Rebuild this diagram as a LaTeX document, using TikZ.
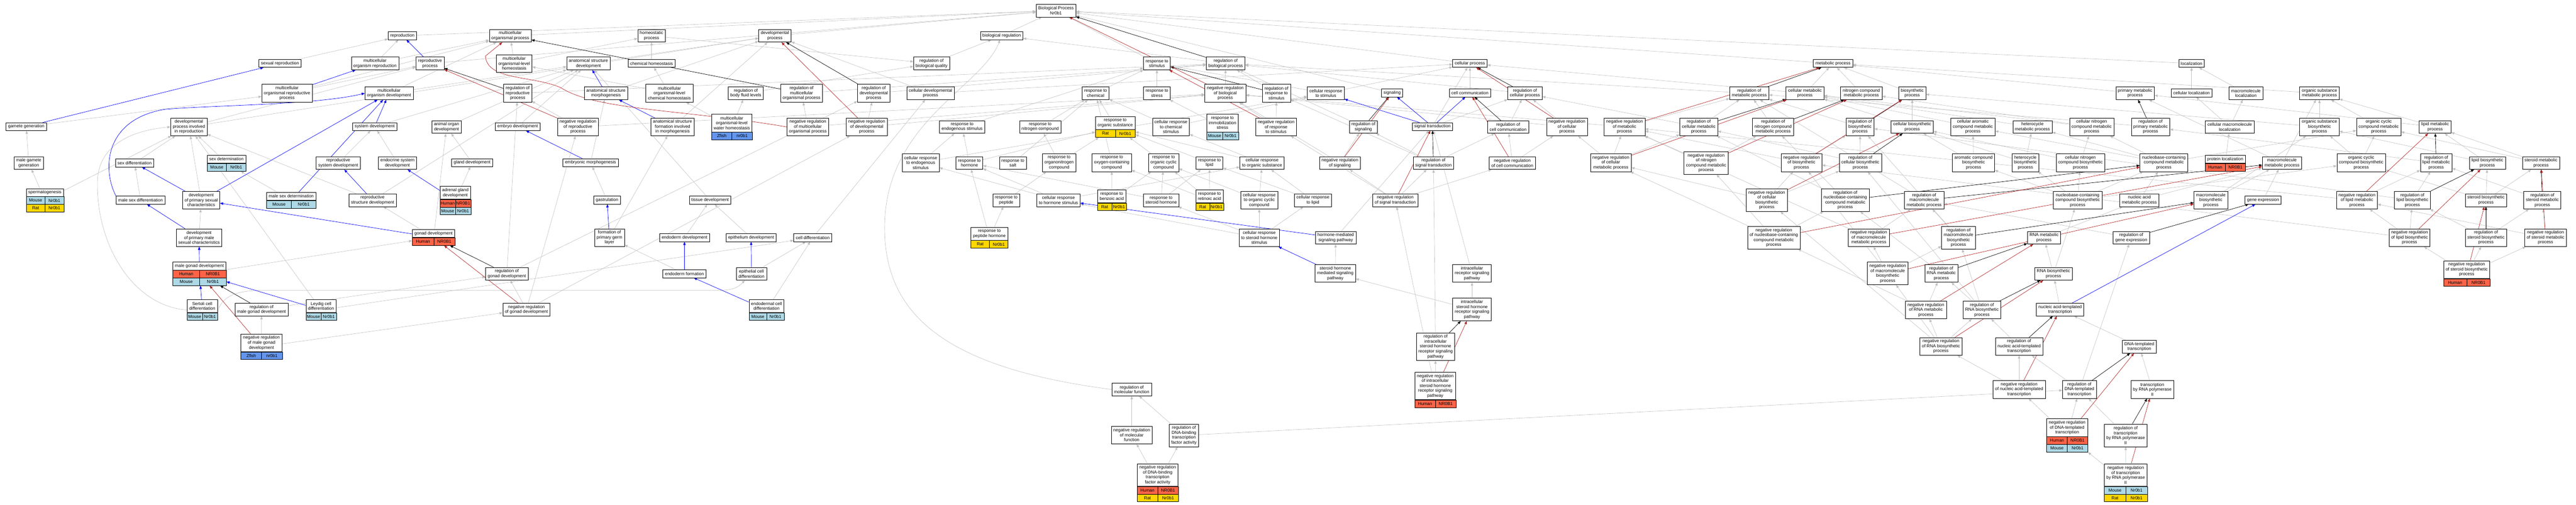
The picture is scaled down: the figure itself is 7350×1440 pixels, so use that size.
\documentclass[tikz,border=0pt]{standalone}
\usepackage{fontspec}
\setmainfont{Liberation Sans}
\usetikzlibrary{arrows.meta,backgrounds,calc,fit}

\definecolor{Human}{HTML}{FF6347}
\definecolor{Mouse}{HTML}{ADD8E6}
\definecolor{Rat}{HTML}{FFD700}
\definecolor{Zfish}{HTML}{6495ED}
\definecolor{isagray}{HTML}{C0C0C0}
\definecolor{firebrick}{HTML}{B22222}

\newcommand\gofont{\fontsize{12.4}{14}\selectfont}

\tikzset{
  >={Triangle[length=9pt,width=7pt]},
  term/.style={draw, line width=0.9pt, fill=white, align=center, font=\gofont,
    inner xsep=6pt, inner ysep=1pt, minimum height={8.5+14*#1}},
  term/.default=1,
  cell/.style={draw, line width=0.8pt, fill=#1, font=\gofont, inner sep=0pt,
    minimum height=21.6pt},
  isa/.style={->, draw=isagray, line width=0.9pt},
  partof/.style={->, draw=blue, line width=1pt},
  reg/.style={->, draw=black, line width=1pt},
  negreg/.style={->, draw=firebrick, line width=1pt}
}

% term with gene table: name, position, label, lines, species/gene rows
\newcommand\gorec[5]{%
  \node[term=#4] (#1-l) at (#2) {#3};
  \foreach \sp/\gn [count=\i] in {#5} {
    \path let \p1=(#1-l.south west), \p2=(#1-l.south east) in
      node[cell=\sp, minimum width={(\x2-\x1)/2}, anchor=north west]
        (#1-a\i) at (\x1,{\y1-(\i-1)*21.6pt}) {\sp}
      node[cell=\sp, minimum width={(\x2-\x1)/2}, anchor=north west]
        (#1-b\i) at ({(\x1+\x2)/2},{\y1-(\i-1)*21.6pt}) {\gn};
    \node[fit=(#1-l)(#1-b\i), inner sep=0pt] (#1) {};
  }%
}

\begin{document}
\begin{tikzpicture}[x=1pt,y=-1pt]
\useasboundingbox (0,0) rectangle (7350,1440);

% top rows
\node[term=2] (bp) at (3013,30) {Biological Process\\Nr0b1};
\node[term] (repro) at (1148,102) {reproduction};
\node[term=2] (mop) at (1456,102) {multicellular\\organismal process};
\node[term=2] (homeo) at (1859,102) {homeostatic\\process};
\node[term=2] (devp) at (2211,102) {developmental\\process};
\node[term] (bioreg) at (2858,102) {biological regulation};

\node[term] (sexrep) at (799,181) {sexual reproduction};
\node[term=2] (mor) at (1070,181) {multicellular\\organism reproduction};
\node[term=2] (rp) at (1227,181) {reproductive\\process};
\node[term=3] (mlh) at (1467,181) {multicellular\\organismal-level\\homeostasis};
\node[term=2] (asd) at (1679,181) {anatomical structure\\development};
\node[term] (chemh) at (1859,181) {chemical homeostasis};
\node[term=2] (rbq) at (2658,181) {regulation of\\biological quality};
\node[term=2] (rts) at (3301,181) {response to\\stimulus};
\node[term=2] (rbp) at (3497,181) {regulation of\\biological process};
\node[term] (cp) at (4194,181) {cellular process};
\node[term] (mp) at (5230,181) {metabolic process};
\node[term] (loc) at (6253,181) {localization};

\node[term=3] (morp) at (819,266) {multicellular\\organismal reproductive\\process};
\node[term=2] (mod) at (1110,266) {multicellular\\organism development};
\node[term=3] (rrp) at (1477,266) {regulation of\\reproductive\\process};
\node[term=2] (asm) at (1729,266) {anatomical structure\\morphogenesis};
\node[term=3] (mlch) at (1910,266) {multicellular\\organismal-level\\chemical homeostasis};
\node[term=2] (rbfl) at (2128,266) {regulation of\\body fluid levels};
\node[term=3] (rmop) at (2287,266) {regulation of\\multicellular\\organismal process};
\node[term=3] (rdp) at (2493,266) {regulation of\\developmental\\process};
\node[term=2] (cdp) at (2655,266) {cellular developmental\\process};
\node[term=2] (rtc) at (3126,266) {response to\\chemical};
\node[term=2] (rtstress) at (3301,266) {response to\\stress};
\node[term=3] (nrbp) at (3496,266) {negative regulation\\of biological\\process};
\node[term=3] (rrs) at (3642,266) {regulation of\\response to\\stimulus};
\node[term=2] (crs) at (3783,266) {cellular response\\to stimulus};
\node[term] (sig) at (3972,265) {signaling};
\node[term] (cc) at (4194,265) {cell communication};
\node[term=2] (rcp) at (4351,266) {regulation of\\cellular process};
\node[term=2] (rmp) at (4991,266) {regulation of\\metabolic process};
\node[term=2] (cmp) at (5150,266) {cellular metabolic\\process};
\node[term=2] (ncmp) at (5311,266) {nitrogen compound\\metabolic process};
\node[term=2] (bsp) at (5456,266) {biosynthetic\\process};
\node[term=2] (pmp) at (6092,266) {primary metabolic\\process};
\node[term] (cloc) at (6253,265) {cellular localization};
\node[term=2] (mloc) at (6408,266) {macromolecule\\localization};
\node[term=2] (osmp) at (6618,266) {organic substance\\metabolic process};

\node[term] (gg) at (75,361) {gamete generation};
\node[term=3] (dpir) at (539,362) {developmental\\process involved\\in reproduction};
\node[term] (sd) at (1069,361) {system development};
\node[term=2] (aod) at (1274,362) {animal organ\\development};
\node[term] (ed) at (1477,361) {embryo development};
\node[term=3] (nrrp) at (1649,362) {negative regulation\\of reproductive\\process};
\node[term=3] (asfm) at (1919,362) {anatomical structure\\formation involved\\in morphogenesis};
\gorec{mlwh}{2088,351}{multicellular\\organismal-level\\water homeostasis}{3}{Zfish/nr0b1}
\node[term=3] (nrmop) at (2305,362) {negative regulation\\of multicellular\\organismal process};
\node[term=3] (nrdp) at (2473,362) {negative regulation\\of developmental\\process};
\node[term=2] (res) at (2745,362) {response to\\endogenous stimulus};
\node[term=2] (rnc) at (2968,362) {response to\\nitrogen compound};
\gorec{ros}{3182,351}{response to\\organic substance}{2}{Rat/Nr0b1}
\node[term=3] (crcs) at (3341,362) {cellular response\\to chemical\\stimulus};
\gorec{rims}{3488,351}{response to\\immobilization\\stress}{3}{Mouse/Nr0b1}
\node[term=3] (nrrs) at (3641,362) {negative regulation\\of response\\to stimulus};
\node[term=2] (rsig) at (3890,362) {regulation of\\signaling};
\node[term] (st) at (4087,361) {signal transduction};
\node[term=2] (rcc) at (4303,362) {regulation of\\cell communication};
\node[term=3] (nrcp) at (4471,362) {negative regulation\\of cellular\\process};
\node[term=3] (nrmp) at (4635,362) {negative regulation\\of metabolic\\process};
\node[term=3] (rcmp) at (4847,362) {regulation of\\cellular metabolic\\process};
\node[term=3] (rncmp) at (5059,362) {regulation of\\nitrogen compound\\metabolic process};
\node[term=3] (rbsp) at (5307,362) {regulation of\\biosynthetic\\process};
\node[term=2] (cbsp) at (5456,362) {cellular biosynthetic\\process};
\node[term=3] (cacmp) at (5629,362) {cellular aromatic\\compound metabolic\\process};
\node[term=2] (hmp) at (5799,362) {heterocycle\\metabolic process};
\node[term=3] (cncmp) at (5968,362) {cellular nitrogen\\compound metabolic\\process};
\node[term=3] (rpmp) at (6136,362) {regulation of\\primary metabolic\\process};
\node[term=2] (cmloc) at (6362,362) {cellular macromolecule\\localization};
\node[term=3] (osbp) at (6618,362) {organic substance\\biosynthetic\\process};
\node[term=3] (occmp) at (6787,362) {organic cyclic\\compound metabolic\\process};
\node[term=2] (lmp) at (6948,362) {lipid metabolic\\process};

\node[term=2] (mgg) at (82,465) {male gamete\\generation};
\node[term] (sdiff) at (384,465) {sex differentiation};
\gorec{sdet}{646,454}{sex determination}{1}{Mouse/Nr0b1}
\node[term=2] (rsd) at (965,465) {reproductive\\system development};
\node[term=2] (esd) at (1134,465) {endocrine system\\development};
\node[term] (gland) at (1347,464) {gland development};
\node[term] (emorph) at (1685,464) {embryonic morphogenesis};
\node[term=3] (cres) at (2627,464) {cellular response\\to endogenous\\stimulus};
\node[term=2] (rth) at (2766,465) {response to\\hormone};
\node[term=2] (rsalt) at (2890,465) {response to\\salt};
\node[term=3] (ronc) at (3022,464) {response to\\organonitrogen\\compound};
\node[term=3] (roxy) at (3172,464) {response to\\oxygen-containing\\compound};
\node[term=3] (rocc) at (3320,464) {response to\\organic cyclic\\compound};
\node[term=2] (rlip) at (3451,465) {response to\\lipid};
\node[term=2] (cros) at (3601,465) {cellular response\\to organic substance};
\node[term=2] (nrsig) at (3823,465) {negative regulation\\of signaling};
\node[term=2] (rst) at (4090,465) {regulation of\\signal transduction};
\node[term=2] (nrcc) at (4315,465) {negative regulation\\of cell communication};
\node[term=3] (nrcmp) at (4596,464) {negative regulation\\of cellular\\metabolic process};
\node[term=4] (nrncmp) at (4868,465) {negative regulation\\of nitrogen\\compound metabolic\\process};
\node[term=3] (nrbsp) at (5140,464) {negative regulation\\of biosynthetic\\process};
\node[term=3] (rcbsp) at (5308,464) {regulation of\\cellular biosynthetic\\process};
\node[term=3] (acbsp) at (5631,464) {aromatic compound\\biosynthetic\\process};
\node[term=3] (hbsp) at (5779,464) {heterocycle\\biosynthetic\\process};
\node[term=3] (cncbsp) at (5936,464) {cellular nitrogen\\compound biosynthetic\\process};
\node[term=3] (nccmp) at (6174,464) {nucleobase-containing\\compound metabolic\\process};
\gorec{ploc}{6349,454}{protein localization}{1}{Human/NR0B1}
\node[term=2] (mmp) at (6511,465) {macromolecule\\metabolic process};
\node[term=3] (occbsp) at (6737,464) {organic cyclic\\compound biosynthetic\\process};
\node[term=3] (rlmp) at (6951,464) {regulation of\\lipid metabolic\\process};
\node[term=2] (lbsp) at (7097,465) {lipid biosynthetic\\process};
\node[term=2] (stmp) at (7250,465) {steroid metabolic\\process};

\gorec{sperm}{128,549}{spermatogenesis}{1}{Mouse/Nr0b1,Rat/Nr0b1}
\node[term] (msdiff) at (401,571) {male sex differentiation};
\node[term=3] (dpsc) at (574,571) {development\\of primary sexual\\characteristics};
\gorec{msdet}{831,560}{male sex determination}{1}{Mouse/Nr0b1}
\node[term=2] (rstd) at (1063,571) {reproductive\\structure development};
\gorec{agd}{1299,550}{adrenal gland\\development}{2}{Human/NR0B1,Mouse/Nr0b1}
\node[term] (gast) at (1732,571) {gastrulation};
\node[term] (tissue) at (2026,571) {tissue development};
\node[term=2] (rpep) at (2871,571) {response to\\peptide};
\node[term=2] (crhs) at (3020,571) {cellular response\\to hormone stimulus};
\gorec{rba}{3172,560}{response to\\benzoic acid}{2}{Rat/Nr0b1}
\node[term=2] (rsh) at (3313,571) {response to\\steroid hormone};
\gorec{rra}{3451,560}{response to\\retinoic acid}{2}{Rat/Nr0b1}
\node[term=3] (crocc) at (3593,571) {cellular response\\to organic cyclic\\compound};
\node[term=2] (crl) at (3746,571) {cellular response\\to lipid};
\node[term=2] (nrst) at (3981,571) {negative regulation\\of signal transduction};
\node[term=4] (nrcbsp) at (5041,571) {negative regulation\\of cellular\\biosynthetic\\process};
\node[term=4] (rnccmp) at (5265,571) {regulation of\\nucleobase-containing\\compound metabolic\\process};
\node[term=3] (rmmp) at (5490,571) {regulation of\\macromolecule\\metabolic process};
\node[term=3] (nccbsp) at (5928,571) {nucleobase-containing\\compound biosynthetic\\process};
\node[term=2] (namp) at (6104,571) {nucleic acid\\metabolic process};
\node[term=3] (mbsp) at (6308,571) {macromolecule\\biosynthetic\\process};
\node[term] (gexp) at (6457,571) {gene expression};
\node[term=3] (nrlmp) at (6725,571) {negative regulation\\of lipid metabolic\\process};
\node[term=3] (rlbsp) at (6883,571) {regulation of\\lipid biosynthetic\\process};
\node[term=2] (stbsp) at (7093,571) {steroid biosynthetic\\process};
\node[term=3] (rstmp) at (7254,571) {regulation of\\steroid metabolic\\process};

\node[term=3] (dpmsc) at (568,678) {development\\of primary male\\sexual characteristics};
\gorec{gonad}{1237,666}{gonad development}{1}{Human/NR0B1}
\node[term=3] (fpgl) at (1739,678) {formation of\\primary germ\\layer};
\node[term] (endod) at (1953,678) {endoderm development};
\node[term] (epid) at (2143,678) {epithelium development};
\node[term] (cdiff) at (2319,678) {cell differentiation};
\gorec{rph}{2823,667}{response to\\peptide hormone}{2}{Rat/Nr0b1}
\node[term=3] (crshs) at (3593,678) {cellular response\\to steroid hormone\\stimulus};
\node[term=2] (hmsp) at (3811,678) {hormone-mediated\\signaling pathway};
\node[term=4] (nrnccmp) at (5061,678) {negative regulation\\of nucleobase-containing\\compound metabolic\\process};
\node[term=3] (nrmmp) at (5332,678) {negative regulation\\of macromolecule\\metabolic process};
\node[term=4] (rmbsp) at (5588,678) {regulation of\\macromolecule\\biosynthetic\\process};
\node[term=2] (rnamp) at (5832,678) {RNA metabolic\\process};
\node[term=2] (rge) at (6081,678) {regulation of\\gene expression};
\node[term=3] (nrlbsp) at (6875,678) {negative regulation\\of lipid biosynthetic\\process};
\node[term=3] (rstbsp) at (7093,678) {regulation of\\steroid biosynthetic\\process};
\node[term=3] (nrstmp) at (7263,678) {negative regulation\\of steroid metabolic\\process};

\gorec{mgd}{569,759}{male gonad development}{1}{Human/NR0B1,Mouse/Nr0b1}
\node[term=2] (rgd) at (1446,781) {regulation of\\gonad development};
\node[term] (endf) at (1953,781) {endoderm formation};
\node[term=2] (ecd) at (2144,781) {epithelial cell\\differentiation};
\node[term=3] (shmsp) at (3810,780) {steroid hormone\\mediated signaling\\pathway};
\node[term=3] (irsp) at (4200,780) {intracellular\\receptor signaling\\pathway};
\node[term=4] (nrmbsp) at (5386,780) {negative regulation\\of macromolecule\\biosynthetic\\process};
\node[term=3] (rrnamp) at (5539,780) {regulation of\\RNA metabolic\\process};
\node[term=2] (rnabsp) at (5859,781) {RNA biosynthetic\\process};
\gorec{nrstbsp}{7038,769}{negative regulation\\of steroid biosynthetic\\process}{3}{Human/NR0B1}

\gorec{sertoli}{577,873}{Sertoli cell\\differentiation}{2}{Mouse/Nr0b1}
\node[term=2] (rmgd) at (746,883) {regulation of\\male gonad development};
\gorec{leydig}{916,873}{Leydig cell\\differentiation}{2}{Mouse/Nr0b1}
\node[term=2] (nrgd) at (1502,883) {negative regulation\\of gonad development};
\gorec{endcd}{2187,873}{endodermal cell\\differentiation}{2}{Mouse/Nr0b1}
\node[term=4] (ishrsp) at (4200,883) {intracellular\\steroid hormone\\receptor signaling\\pathway};
\node[term=3] (nrrnamp) at (5495,884) {negative regulation\\of RNA metabolic\\process};
\node[term=3] (rrnabsp) at (5655,884) {regulation of\\RNA biosynthetic\\process};
\node[term=2] (natt) at (5878,883) {nucleic acid-templated\\transcription};

\gorec{nrmgd}{746,978}{negative regulation\\of male gonad\\development}{3}{Zfish/nr0b1}
\node[term=5] (rishrsp) at (4096,989) {regulation of\\intracellular\\steroid hormone\\receptor signaling\\pathway};
\node[term=3] (nrrnabsp) at (5538,988) {negative regulation\\of RNA biosynthetic\\process};
\node[term=3] (rnatt) at (5761,988) {regulation of\\nucleic acid-templated\\transcription};
\node[term=2] (dtt) at (6104,989) {DNA-templated\\transcription};

\gorec{nrishrsp}{4095,1101}{negative regulation\\of intracellular\\steroid hormone\\receptor signaling\\pathway}{5}{Human/NR0B1}
\node[term=2] (rmf) at (3229,1111) {regulation of\\molecular function};
\node[term=3] (nrnatt) at (5761,1111) {negative regulation\\of nucleic acid-templated\\transcription};
\node[term=3] (rdtt) at (5933,1111) {regulation of\\DNA-templated\\transcription};
\node[term=3] (trp2) at (6141,1111) {transcription\\by RNA polymerase\\II};

\node[term=3] (nrmf) at (3229,1241) {negative regulation\\of molecular\\function};
\node[term=4] (rdbtf) at (3378,1242) {regulation of\\DNA-binding\\transcription\\factor activity};
\gorec{nrdtt}{5898,1220}{negative regulation\\of DNA-templated\\transcription}{3}{Human/NR0B1,Mouse/Nr0b1}
\node[term=4] (rtrp2) at (6065,1242) {regulation of\\transcription\\by RNA polymerase\\II};

\gorec{nrdbtf}{3303,1355}{negative regulation\\of DNA-binding\\transcription\\factor activity}{4}{Human/NR0B1,Rat/Nr0b1}
\gorec{nrtrp2}{6065,1355}{negative regulation\\of transcription\\by RNA polymerase\\II}{4}{Mouse/Nr0b1,Rat/Nr0b1}

\begin{scope}[on background layer]
% is_a
\draw[isa] (repro) -- (bp);
\draw[isa] (mop) -- (bp);
\draw[isa] (rp) -- (bp);
\draw[isa] (devp) -- (bp);
\draw[isa] (bioreg) -- (bp);
\draw[isa] (rts) -- (bp);
\draw[isa] (cp) -- (bp);
\draw[isa] (mp) -- (bp);
\draw[isa] (loc) -- (bp);
\draw[isa] (sig) -- (bp);
\draw[isa] (sexrep) -- (repro);
\draw[isa] (mor) -- (repro);
\draw[isa] (mor) -- (mop);
\draw[isa] (morp) -- (rp);
\draw[isa] (morp) -- (mop);
\draw[isa] (gg) -- (morp);
\draw[isa] (mod) -- (mop);
\draw[isa] (mod) -- (asd);
\draw[isa] (dpir) -- (rp);
\draw[isa] (dpir) -- (devp);
\draw[isa] (sd) -- (asd);
\draw[isa] (mgg) -- (gg);
\draw[isa] (sperm) -- (mgg);
\draw[isa] (sperm) -- (dpir);
\draw[isa] (sdiff) -- (dpir);
\draw[isa] (sdet) -- (dpir);
\draw[isa] (msdiff) -- (sdiff);
\draw[isa] (dpsc) -- (dpir);
\draw[isa] (msdet) -- (sdet);
\draw[isa] (rsd) -- (sd);
\draw[isa] (esd) -- (sd);
\draw[isa] (rstd) -- (dpir);
\draw[isa] (rstd) -- (asd);
\draw[isa] (dpmsc) -- (dpsc);
\draw[isa] (gonad) -- (rstd);
\draw[isa] (gonad) -- (aod);
\draw[isa] (mgd) -- (gonad);
\draw[isa] (sertoli.west) .. controls (380,873) and (275,700) .. (278,520)
  .. controls (280,400) and (400,370) .. (dpir.west);
\draw[isa] (sertoli.east) .. controls (640,840) and (680,828) .. (760,828)
  -- (2050,828) .. controls (2100,828) and (2110,815) .. (ecd);
\draw[isa] (leydig) -- (dpir);
\draw[isa] (leydig) -- (cdiff);
\draw[isa] (rmgd) -- (rgd);
\draw[isa] (nrmgd) -- (rmgd);
\draw[isa] (nrmgd) -- (nrgd);
\draw[isa] (rgd) -- (rrp);
\draw[isa] (rgd) -- (rdp);
\draw[isa] (nrgd) -- (rgd);
\draw[isa] (nrgd) -- (nrrp);
\draw[isa] (nrgd) -- (nrdp);
\draw[isa] (homeo) -- (rbq);
\draw[isa] (mlh) -- (mop);
\draw[isa] (mlh) -- (homeo);
\draw[isa] (chemh) -- (homeo);
\draw[isa] (asd) -- (devp);
\draw[isa] (rrp) -- (rbp);
\draw[isa] (asm) -- (devp);
\draw[isa] (mlch) -- (chemh);
\draw[isa] (mlch) -- (mlh);
\draw[isa] (rbfl) -- (rbq);
\draw[isa] (rmop) -- (rbp);
\draw[isa] (aod) -- (asd);
\draw[isa] (ed) -- (asd);
\draw[isa] (nrrp) -- (rrp);
\draw[isa] (nrrp) -- (nrbp);
\draw[isa] (asfm) -- (devp);
\draw[isa] (mlwh) -- (rbfl);
\draw[isa] (mlwh) -- (mlch);
\draw[isa] (nrmop) -- (rmop);
\draw[isa] (nrmop) -- (nrbp);
\draw[isa] (gland) -- (aod);
\draw[isa] (agd) -- (gland);
\draw[isa] (emorph) -- (asm);
\draw[isa] (gast) -- (emorph);
\draw[isa] (tissue) -- (asd);
\draw[isa] (fpgl) -- (asfm);
\draw[isa] (endod) -- (tissue);
\draw[isa] (epid) -- (tissue);
\draw[isa] (cdiff) -- (cdp);
\draw[isa] (endf) -- (fpgl);
\draw[isa] (ecd) -- (cdiff);
\draw[isa] (endcd) -- (cdiff);
\draw[isa] (rbq) -- (bioreg);
\draw[isa] (rbp) -- (bioreg);
\draw[isa] (rdp) -- (rbp);
\draw[isa] (cdp) -- (devp);
\draw[isa] (cdp) -- (cp);
\draw[isa] (rtc) -- (rts);
\draw[isa] (rtstress) -- (rts);
\draw[isa] (nrbp) -- (rbp);
\draw[isa] (rrs) -- (rbp);
\draw[isa] (nrdp) -- (rdp);
\draw[isa] (nrdp) -- (nrbp);
\draw[isa] (res) -- (rts);
\draw[isa] (rnc) -- (rtc);
\draw[isa] (ros) -- (rtc);
\draw[isa] (crcs) -- (rtc);
\draw[isa] (crcs) -- (crs);
\draw[isa] (rims) -- (rtstress);
\draw[isa] (nrrs) -- (rrs);
\draw[isa] (nrrs) -- (nrbp);
\draw[isa] (cres) -- (res);
\draw[isa] (cres) -- (crs);
\draw[isa] (rth) -- (res);
\draw[isa] (rth) -- (ros);
\draw[isa] (rsalt) -- (rtc);
\draw[isa] (ronc) -- (rnc);
\draw[isa] (ronc) -- (ros);
\draw[isa] (roxy) -- (rtc);
\draw[isa] (rocc) -- (ros);
\draw[isa] (rlip) -- (ros);
\draw[isa] (cros) -- (ros);
\draw[isa] (cros) -- (crcs);
\draw[isa] (rpep) -- (ronc);
\draw[isa] (crhs) -- (rth);
\draw[isa] (crhs) -- (cres);
\draw[isa] (crhs) -- (cros);
\draw[isa] (rba) -- (rocc);
\draw[isa] (rba) -- (roxy);
\draw[isa] (rsh) -- (rth);
\draw[isa] (rsh) -- (rlip);
\draw[isa] (rsh) -- (rocc);
\draw[isa] (rra) -- (rlip);
\draw[isa] (rra) -- (roxy);
\draw[isa] (rra) -- (rocc);
\draw[isa] (crocc) -- (rocc);
\draw[isa] (crocc) -- (cros);
\draw[isa] (rph) -- (rpep);
\draw[isa] (rph) -- (rth);
\draw[isa] (crshs) -- (rsh);
\draw[isa] (crshs) -- (crocc);
\draw[isa] (crshs) -- (crhs);
\draw[isa] (crshs) -- (crl);
\draw[isa] (rmf.west) .. controls (2700,1050) and (2524,900) .. (2524,650)
  .. controls (2524,350) and (2800,250) .. (bioreg);
\draw[isa] (nrmf) -- (rmf);
\draw[isa] (rdbtf) -- (rmf);
\draw[isa] (rdbtf) -- (rdtt);
\draw[isa] (nrdbtf) -- (nrmf);
\draw[isa] (nrdbtf) -- (rdbtf);
\draw[isa] (crs) -- (rts);
\draw[isa] (crs) -- (cp);
\draw[isa] (cc) -- (cp);
\draw[isa] (rcp) -- (rbp);
\draw[isa] (rsig) -- (rbp);
\draw[isa] (st) -- (cp);
\draw[isa] (st) -- (rcp);
\draw[isa] (rcc) -- (rcp);
\draw[isa] (nrcp) -- (rcp);
\draw[isa] (nrcp) -- (nrbp);
\draw[isa] (nrmp) -- (rmp);
\draw[isa] (nrmp) -- (nrbp);
\draw[isa] (rcmp) -- (rmp);
\draw[isa] (rcmp) -- (rcp);
\draw[isa] (nrsig) -- (rsig);
\draw[isa] (nrsig) -- (nrbp);
\draw[isa] (rst) -- (rsig);
\draw[isa] (rst) -- (rcc);
\draw[isa] (rst) -- (rrs);
\draw[isa] (nrcc) -- (rcc);
\draw[isa] (nrcc) -- (nrcp);
\draw[isa] (nrcmp) -- (nrmp);
\draw[isa] (nrcmp) -- (rcmp);
\draw[isa] (nrcmp) -- (nrcp);
\draw[isa] (nrncmp) -- (nrmp);
\draw[isa] (nrncmp) -- (rncmp);
\draw[isa] (crl) -- (rlip);
\draw[isa] (crl) -- (cros);
\draw[isa] (nrst) -- (nrsig);
\draw[isa] (nrst) -- (rst);
\draw[isa] (nrst) -- (nrcc);
\draw[isa] (nrst) -- (nrrs);
\draw[isa] (hmsp) -- (st);
\draw[isa] (shmsp) -- (hmsp);
\draw[isa] (irsp) -- (st);
\draw[isa] (ishrsp) -- (irsp);
\draw[isa] (ishrsp) -- (shmsp);
\draw[isa] (rishrsp) -- (rst);
\draw[isa] (nrishrsp) -- (rishrsp);
\draw[isa] (nrishrsp) -- (nrst);
\draw[isa] (rmp) -- (rbp);
\draw[isa] (cmp) -- (mp);
\draw[isa] (cmp) -- (cp);
\draw[isa] (ncmp) -- (mp);
\draw[isa] (bsp) -- (mp);
\draw[isa] (pmp) -- (mp);
\draw[isa] (rncmp) -- (rmp);
\draw[isa] (rbsp) -- (rmp);
\draw[isa] (cbsp) -- (bsp);
\draw[isa] (cbsp) -- (cmp);
\draw[isa] (cacmp) -- (cmp);
\draw[isa] (hmp) -- (cmp);
\draw[isa] (cncmp) -- (ncmp);
\draw[isa] (cncmp) -- (cmp);
\draw[isa] (rpmp) -- (rmp);
\draw[isa] (nrbsp) -- (rbsp);
\draw[isa] (nrbsp) -- (nrmp);
\draw[isa] (rcbsp) -- (rbsp);
\draw[isa] (rcbsp) -- (rcmp);
\draw[isa] (acbsp) -- (cacmp);
\draw[isa] (acbsp) -- (cbsp);
\draw[isa] (hbsp) -- (hmp);
\draw[isa] (hbsp) -- (cbsp);
\draw[isa] (cncbsp) -- (cncmp);
\draw[isa] (cncbsp) -- (cbsp);
\draw[isa] (nccmp) -- (cacmp);
\draw[isa] (nccmp) -- (hmp);
\draw[isa] (nccmp) -- (cncmp);
\draw[isa] (nccmp) -- (occmp);
\draw[isa] (nrcbsp) -- (nrbsp);
\draw[isa] (nrcbsp) -- (rcbsp);
\draw[isa] (nrcbsp) -- (nrcmp);
\draw[isa] (rnccmp) -- (rcmp);
\draw[isa] (rnccmp) -- (rncmp);
\draw[isa] (rmmp) -- (rmp);
\draw[isa] (nccbsp) -- (nccmp);
\draw[isa] (nccbsp) -- (acbsp);
\draw[isa] (nccbsp) -- (hbsp);
\draw[isa] (nccbsp) -- (cncbsp);
\draw[isa] (nccbsp) -- (occbsp);
\draw[isa] (namp) -- (nccmp);
\draw[isa] (namp) -- (mmp);
\draw[isa] (nrnccmp) -- (rnccmp);
\draw[isa] (nrnccmp) -- (nrcmp);
\draw[isa] (nrnccmp) -- (nrncmp);
\draw[isa] (nrmmp) -- (rmmp);
\draw[isa] (nrmmp) -- (nrmp);
\draw[isa] (rmbsp) -- (rmmp);
\draw[isa] (rmbsp) -- (rbsp);
\draw[isa] (rnamp) -- (namp);
\draw[isa] (rge) -- (rmmp);
\draw[isa] (nrmbsp) -- (rmbsp);
\draw[isa] (nrmbsp) -- (nrmmp);
\draw[isa] (nrmbsp) -- (nrbsp);
\draw[isa] (rrnamp) -- (rnccmp);
\draw[isa] (rnabsp) -- (rnamp);
\draw[isa] (rnabsp) -- (nccbsp);
\draw[isa] (nrrnamp) -- (rrnamp);
\draw[isa] (nrrnamp) -- (nrnccmp);
\draw[isa] (rrnabsp) -- (rrnamp);
\draw[isa] (rrnabsp) -- (rmbsp);
\draw[isa] (rrnabsp) -- (rcbsp);
\draw[isa] (natt) -- (rnabsp);
\draw[isa] (nrrnabsp) -- (rrnabsp);
\draw[isa] (nrrnabsp) -- (nrrnamp);
\draw[isa] (nrrnabsp) -- (nrmbsp);
\draw[isa] (nrrnabsp) -- (nrcbsp);
\draw[isa] (rnatt) -- (rrnabsp);
\draw[isa] (dtt) -- (natt);
\draw[isa] (nrnatt) -- (rnatt);
\draw[isa] (nrnatt) -- (nrrnabsp);
\draw[isa] (rdtt) -- (rnatt);
\draw[isa] (rdtt) -- (rge);
\draw[isa] (trp2) -- (dtt);
\draw[isa] (nrdtt) -- (rdtt);
\draw[isa] (nrdtt) -- (nrnatt);
\draw[isa] (rtrp2) -- (rdtt);
\draw[isa] (nrtrp2) -- (rtrp2);
\draw[isa] (nrtrp2) -- (nrdtt);
\draw[isa] (cloc) -- (loc);
\draw[isa] (mloc) -- (loc);
\draw[isa] (osmp) -- (mp);
\draw[isa] (cmloc) -- (cloc);
\draw[isa] (cmloc) -- (mloc);
\draw[isa] (osbp) -- (osmp);
\draw[isa] (osbp) -- (bsp);
\draw[isa] (occmp) -- (osmp);
\draw[isa] (lmp) -- (osmp);
\draw[isa] (lmp) -- (pmp);
\draw[isa] (ploc) -- (cmloc);
\draw[isa] (mmp) -- (osmp);
\draw[isa] (mmp) -- (pmp);
\draw[isa] (occbsp) -- (occmp);
\draw[isa] (occbsp) -- (osbp);
\draw[isa] (rlmp) -- (rpmp);
\draw[isa] (lbsp) -- (lmp);
\draw[isa] (lbsp) -- (osbp);
\draw[isa] (stmp) -- (lmp);
\draw[isa] (stmp) -- (occmp);
\draw[isa] (mbsp) -- (mmp);
\draw[isa] (mbsp) -- (osbp);
\draw[isa] (gexp) -- (mmp);
\draw[isa] (nrlmp) -- (rlmp);
\draw[isa] (nrlmp) -- (nrmp);
\draw[isa] (rlbsp) -- (rlmp);
\draw[isa] (rlbsp) -- (rbsp);
\draw[isa] (stbsp) -- (stmp);
\draw[isa] (stbsp) -- (lbsp);
\draw[isa] (stbsp) -- (occbsp);
\draw[isa] (rstmp) -- (rlmp);
\draw[isa] (nrlbsp) -- (rlbsp);
\draw[isa] (nrlbsp) -- (nrlmp);
\draw[isa] (nrlbsp) -- (nrbsp);
\draw[isa] (rstbsp) -- (rstmp);
\draw[isa] (rstbsp) -- (rlbsp);
\draw[isa] (nrstmp) -- (rstmp);
\draw[isa] (nrstmp) -- (nrlmp);
\draw[isa] (nrstbsp) -- (rstbsp);
\draw[isa] (nrstbsp) -- (nrlbsp);
\draw[isa] (nrstbsp) -- (nrstmp);

% part_of
\draw[partof] (gg) -- (sexrep);
\draw[partof] (morp) -- (mor);
\draw[partof] (rp) -- (repro);
\draw[partof] (sd) -- (mod);
\draw[partof] (msdiff.north west) .. controls (290,480) and (300,340) .. (470,312)
  .. controls (600,300) and (900,300) .. (mod.west);
\draw[partof] (dpsc) -- (mod);
\draw[partof] (msdet) -- (mod);
\draw[partof] (dpsc) -- (sdiff);
\draw[partof] (dpmsc) -- (msdiff);
\draw[partof] (gonad) -- (dpsc);
\draw[partof] (rstd) -- (rsd);
\draw[partof] (agd) -- (esd);
\draw[partof] (mgd) -- (dpmsc);
\draw[partof] (sertoli) -- (mgd);
\draw[partof] (leydig) -- (mgd);
\draw[partof] (asm) -- (asd);
\draw[partof] (asfm) -- (asm);
\draw[partof] (emorph) -- (ed);
\draw[partof] (fpgl) -- (gast);
\draw[partof] (endf) -- (endod);
\draw[partof] (ecd) -- (epid);
\draw[partof] (endcd) -- (endf);
\draw[partof] (st) -- (crs);
\draw[partof] (st) -- (sig);
\draw[partof] (st) -- (cc);
\draw[partof] (hmsp) -- (crhs);
\draw[partof] (shmsp) -- (crshs);
\draw[partof] (natt) -- (gexp);

% regulates
\draw[reg] (rrp) -- (rp);
\draw[reg] (rmop) -- (mop);
\draw[reg] (rdp) -- (devp);
\draw[reg] (rmgd) -- (mgd);
\draw[reg] (rgd) -- (gonad);
\draw[reg] (rbp) -- (bp);
\draw[reg] (rrs) -- (rts);
\draw[reg] (rsig) -- (sig);
\draw[reg] (rcc) -- (cc);
\draw[reg] (rcp) -- (cp);
\draw[reg] (rst) -- (st);
\draw[reg] (rmp) -- (mp);
\draw[reg] (rncmp) -- (ncmp);
\draw[reg] (rbsp) -- (bsp);
\draw[reg] (rcbsp) -- (cbsp);
\draw[reg] (rcmp) -- (cmp);
\draw[reg] (rpmp) -- (pmp);
\draw[reg] (rnccmp) -- (nccmp);
\draw[reg] (rmmp) -- (mmp);
\draw[reg] (rmbsp) -- (mbsp);
\draw[reg] (rrnamp) -- (rnamp);
\draw[reg] (rrnabsp) -- (rnabsp);
\draw[reg] (rnatt) -- (natt);
\draw[reg] (rdtt) -- (dtt);
\draw[reg] (rtrp2) -- (trp2);
\draw[reg] (rge) -- (gexp);
\draw[reg] (rlmp) -- (lmp);
\draw[reg] (rlbsp) -- (lbsp);
\draw[reg] (rstmp) -- (stmp);
\draw[reg] (rstbsp) -- (stbsp);
\draw[reg] (rishrsp) -- (ishrsp);

% negatively regulates
\draw[negreg] (nrrp) -- (rp);
\draw[negreg] (nrmop.west) .. controls (1950,312) and (1700,315) .. (1600,250)
  .. controls (1520,215) and (1390,230) .. (1385,160) -- (mop);
\draw[negreg] (nrdp) -- (devp);
\draw[negreg] (nrmgd) -- (mgd);
\draw[negreg] (nrgd) -- (gonad);
\draw[negreg] (nrbp) -- (bp);
\draw[negreg] (nrrs) -- (rts);
\draw[negreg] (nrsig) -- (sig);
\draw[negreg] (nrcc) -- (cc);
\draw[negreg] (nrcp) -- (cp);
\draw[negreg] (nrst) -- (st);
\draw[negreg] (nrmp) -- (mp);
\draw[negreg] (nrcmp) -- (cmp);
\draw[negreg] (nrncmp) -- (ncmp);
\draw[negreg] (nrbsp) -- (bsp);
\draw[negreg] (nrcbsp) -- (cbsp);
\draw[negreg] (nrnccmp) -- (nccmp);
\draw[negreg] (nrmmp) -- (mmp);
\draw[negreg] (nrmbsp) -- (mbsp);
\draw[negreg] (nrrnamp) -- (rnamp);
\draw[negreg] (nrrnabsp) -- (rnabsp);
\draw[negreg] (nrnatt) -- (natt);
\draw[negreg] (nrdtt) -- (dtt);
\draw[negreg] (nrtrp2) -- (trp2);
\draw[negreg] (nrlmp) -- (lmp);
\draw[negreg] (nrlbsp) -- (lbsp);
\draw[negreg] (nrstmp) -- (stmp);
\draw[negreg] (nrstbsp) -- (stbsp);
\draw[negreg] (nrishrsp) -- (ishrsp);
\end{scope}
\end{tikzpicture}
\end{document}
